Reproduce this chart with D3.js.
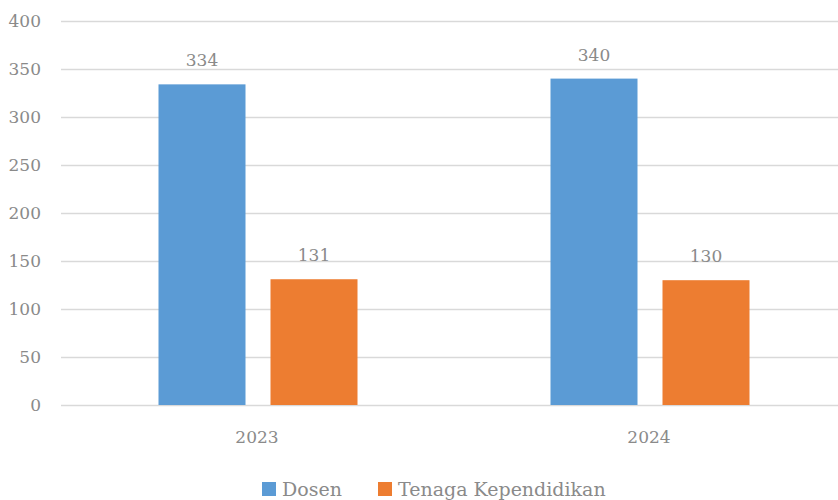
<!DOCTYPE html>
<html>
<head>
<meta charset="utf-8">
<script src="https://cdn.jsdelivr.net/npm/d3@7"></script>
<style>
  body { margin: 0; background: #fff; }
  .chart text { font-family: "DejaVu Serif", serif; fill: #8a8a8a; }
  .grid line { stroke: #d9d9d9; stroke-width: 1.3; }
</style>
</head>
<body>
<div class="chart"></div>
<script>
const years = ['2023', '2024']
const seriesNames = ['Dosen', 'Tenaga Kependidikan']
const dosen = [334, 340]
const tenaga = [131, 130]
const yTicks = [0, 50, 100, 150, 200, 250, 300, 350, 400]
const colors = ['#5b9bd5', '#ed7d31']

const width = 838
const height = 500

const data = years.map((yr, i) => ({year: yr, values: [dosen[i], tenaga[i]]}))

let svg = d3.select('.chart')
  .append('svg')
  .attr('width', width)
  .attr('height', height)

let y = d3.scaleLinear().domain([0, 400]).range([405, 21])

let x0 = d3.scaleBand().domain(years).range([62, 846])
let x1 = d3.scaleBand().domain(seriesNames)
  .range([96.5, 295.5])
  .paddingInner(0.2232)

// gridlines
svg.append('g')
  .attr('class', 'grid')
  .attr('transform', 'translate(61,0)')
  .call(d3.axisLeft(y).tickValues(yTicks).tickSize(-(width - 61)).tickFormat(''))
  .call(g => g.select('.domain').remove())

// y labels
svg.append('g')
  .selectAll('text')
  .data(yTicks)
  .join('text')
  .attr('x', 41)
  .attr('y', d => y(d))
  .attr('dy', '0.35em')
  .attr('text-anchor', 'end')
  .style('font-size', '17px')
  .text(d => d)

let groups = svg.append('g')
  .selectAll('g')
  .data(data)
  .join('g')
  .attr('transform', d => 'translate(' + x0(d.year) + ',0)')

groups.selectAll('rect')
  .data(d => d.values.map((v, i) => ({name: seriesNames[i], value: v, i: i})))
  .join('rect')
  .attr('x', d => x1(d.name))
  .attr('width', x1.bandwidth())
  .attr('y', d => y(d.value))
  .attr('height', d => y(0) - y(d.value))
  .attr('fill', d => colors[d.i])

groups.selectAll('text.val')
  .data(d => d.values.map((v, i) => ({name: seriesNames[i], value: v})))
  .join('text')
  .attr('class', 'val')
  .attr('x', d => x1(d.name) + x1.bandwidth() / 2)
  .attr('y', d => y(d.value) - 18)
  .attr('text-anchor', 'middle')
  .style('font-size', '17px')
  .text(d => d.value)

// x labels
svg.append('g')
  .selectAll('text')
  .data(years)
  .join('text')
  .attr('x', d => x0(d) + x0.bandwidth() / 2 - 1)
  .attr('y', 437)
  .attr('dy', '0.35em')
  .attr('text-anchor', 'middle')
  .style('font-size', '17px')
  .text(d => d)

// legend
const legendX = [262, 378]
let legend = svg.append('g')
  .selectAll('g')
  .data(seriesNames)
  .join('g')
  .attr('transform', (d, i) => 'translate(' + legendX[i] + ',482)')

legend.append('rect')
  .attr('width', 14)
  .attr('height', 14)
  .attr('fill', (d, i) => colors[i])

legend.append('text')
  .attr('x', 20)
  .attr('y', 7)
  .attr('dy', '0.35em')
  .style('font-size', '19px')
  .text(d => d)
</script>
</body>
</html>
